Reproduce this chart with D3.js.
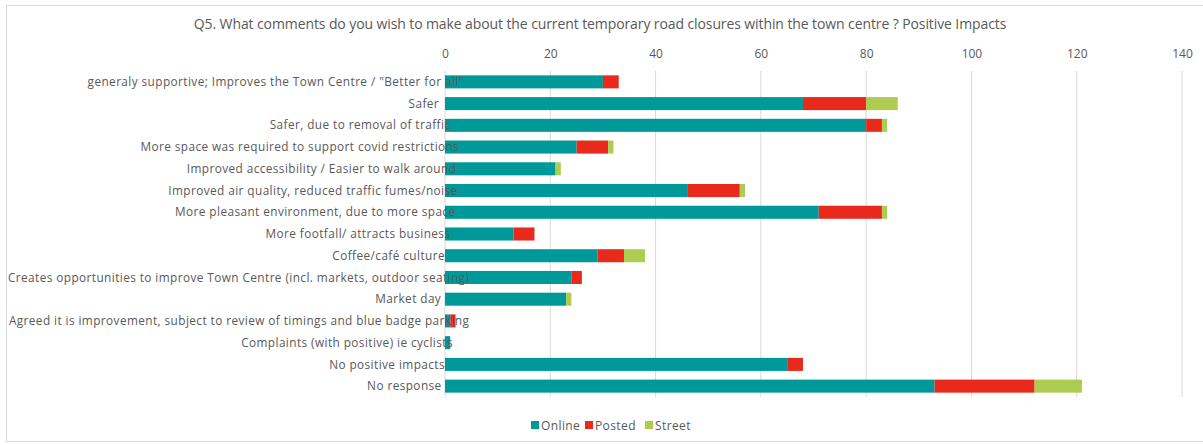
<!DOCTYPE html>
<html>
<head>
<meta charset="utf-8">
<script src="https://d3js.org/d3.v7.min.js"></script>
<style>
  body { margin: 0; background: #fff; }
  text { font-family: "Open Sans", "Liberation Sans", sans-serif; fill: #595959; }
</style>
</head>
<body>
<div class="container"></div>
<script>
var w = 1203;
var h = 445;

var categories = [
  'generaly supportive; Improves the Town Centre / "Better for all"',
  "Safer",
  "Safer, due to removal of traffic",
  "More space was required to support covid restrictions",
  "Improved accessibility / Easier to walk around",
  "Improved air quality, reduced traffic fumes/noise",
  "More pleasant environment, due to more space",
  "More footfall/ attracts business",
  "Coffee/café culture",
  "Creates opportunities to improve Town Centre (incl. markets, outdoor seating)",
  "Market day",
  "Agreed it is improvement, subject to review of timings and blue badge parking",
  "Complaints (with positive) ie cyclists",
  "No positive impacts",
  "No response"
];
var online = [30, 68, 80, 25, 21, 46, 71, 13, 29, 24, 23, 1, 1, 65, 93];
var posted = [3, 12, 3, 6, 0, 10, 12, 4, 5, 2, 0, 1, 0, 3, 19];
var street = [0, 6, 1, 1, 1, 1, 1, 0, 4, 0, 1, 0, 0, 0, 9];
var seriesNames = ["Online", "Posted", "Street"];
var colors = ["#009999", "#E8291B", "#AECB52"];
var xTicks = [0, 20, 40, 60, 80, 100, 120, 140];
var title = "Q5. What comments do you wish to make about the current temporary road closures within the town centre ? Positive Impacts";

var svg = d3.select(".container").append("svg")
  .attr("width", w)
  .attr("height", h);

// chart area border
svg.append("rect")
  .attr("x", 6.5).attr("y", 5.5)
  .attr("width", w - 6).attr("height", h - 9)
  .attr("fill", "none")
  .attr("stroke", "#d9d9d9");

svg.append("text")
  .attr("x", 600).attr("y", 29)
  .attr("text-anchor", "middle")
  .style("font-size", "14px")
  .style("letter-spacing", "-0.1px")
  .text(title);

var xScale = d3.scaleLinear().domain([0, 140]).range([445, 1182]);
var yScale = d3.scaleBand().domain(categories).range([71, 397]).paddingInner(0.4).paddingOuter(0.2);

// gridlines
svg.append("g").selectAll("line")
  .data(xTicks)
  .enter().append("line")
  .attr("x1", d => xScale(d)).attr("x2", d => xScale(d))
  .attr("y1", 71).attr("y2", 397)
  .attr("stroke", "#d9d9d9");

var xAxis = d3.axisTop(xScale).tickValues(xTicks).tickSize(0).tickPadding(0);
var xAxisGroup = svg.append("g")
  .attr("transform", "translate(0, 58)")
  .call(xAxis);
xAxisGroup.select(".domain").remove();
xAxisGroup.selectAll("text")
  .style("font-size", "12px")
  .style("fill", "#595959")
  .style("font-family", '"Open Sans", sans-serif');

// stacked data
var table = categories.map((c, i) => ({ cat: c, Online: online[i], Posted: posted[i], Street: street[i] }));
var stack = d3.stack().keys(seriesNames)(table);

svg.append("g").selectAll("g")
  .data(stack)
  .enter().append("g")
  .attr("fill", (d, i) => colors[i])
  .selectAll("rect")
  .data(d => d)
  .enter().append("rect")
  .attr("x", d => xScale(d[0]))
  .attr("y", d => yScale(d.data.cat))
  .attr("width", d => xScale(d[1]) - xScale(d[0]))
  .attr("height", yScale.bandwidth());

// category labels, right aligned then spread (drawn over the bars like the original)
var labelEdge = 437;
var labels = svg.append("g").selectAll("text")
  .data(categories)
  .enter().append("text")
  .attr("x", labelEdge)
  .attr("y", d => yScale(d) + yScale.bandwidth() / 2)
  .attr("dy", "0.35em")
  .style("font-size", "11.8px")
  .text(d => d);
labels.each(function () {
  var len = this.getComputedTextLength();
  d3.select(this).attr("x", labelEdge - len).style("letter-spacing", "0.42px");
});

// legend
var legend = svg.append("g").attr("transform", "translate(531, 426)");
var lx = [0, 54, 114];
seriesNames.forEach(function (s, i) {
  legend.append("rect")
    .attr("x", lx[i]).attr("y", -5)
    .attr("width", 8).attr("height", 8)
    .attr("fill", colors[i]);
  legend.append("text")
    .attr("x", lx[i] + 10).attr("y", 0)
    .attr("dy", "0.35em")
    .style("font-size", "12px")
    .style("letter-spacing", "0.4px")
    .text(s);
});
</script>
</body>
</html>
